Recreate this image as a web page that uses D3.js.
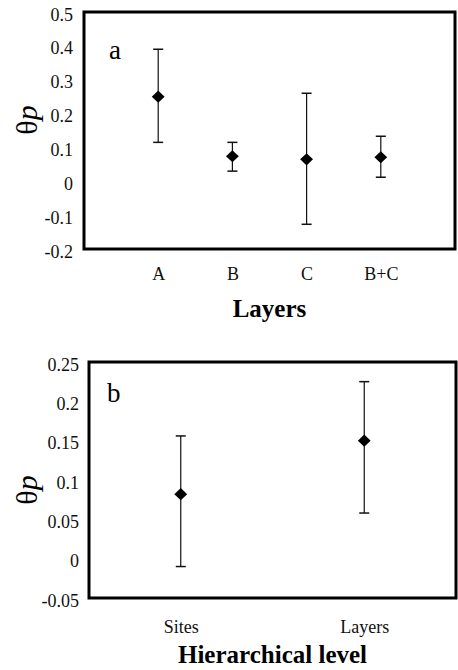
<!DOCTYPE html>
<html>
<head>
<meta charset="utf-8">
<script src="https://cdn.jsdelivr.net/npm/d3@7"></script>
<style>
  body { margin: 0; background: #fff; }
  svg { display: block; font-family: "Liberation Serif", "Times New Roman", serif; }
</style>
</head>
<body>
<svg id="chart" width="458" height="670"></svg>
<script>
// panel a: theta_p by layer
const layerCats = ["A", "B", "C", "B+C"];
const layerMean = [0.25, 0.074, 0.065, 0.071];
const layerLow  = [0.115, 0.03, -0.127, 0.012];
const layerHigh = [0.39, 0.115, 0.26, 0.133];
const layerTicks = [-0.2, -0.1, 0, 0.1, 0.2, 0.3, 0.4, 0.5];

// panel b: theta_p by hierarchical level
const levelCats = ["Sites", "Layers"];
const levelMean = [0.082, 0.15];
const levelLow  = [-0.01, 0.058];
const levelHigh = [0.156, 0.225];
const levelTicks = [-0.05, 0, 0.05, 0.1, 0.15, 0.2, 0.25];

const svg = d3.select("#chart");
const serif = "Liberation Serif, Times New Roman, serif";

function drawPanel(opts) {
    const { left, right, top, bottom, cats, mean, low, high, ticks, domain, padding } = opts;

    const x = d3.scalePoint().domain(cats).range([left, right]).padding(padding);
    const y = d3.scaleLinear().domain(domain).range([bottom, top]);

    const g = svg.append("g");

    // y tick labels
    g.append("g")
        .attr("transform", `translate(${left},0)`)
        .call(d3.axisLeft(y).tickValues(ticks).tickSize(0).tickPadding(opts.tickGap).tickFormat(d => String(+d.toFixed(2))))
        .call(a => a.select(".domain").remove())
        .selectAll("text")
        .attr("font-size", 18)
        .attr("font-family", serif)
        .attr("fill", "#111")
        .attr("dy", "0.45em");

    // category labels
    g.append("g")
        .attr("transform", `translate(0,${bottom})`)
        .call(d3.axisBottom(x).tickSize(0))
        .call(a => a.select(".domain").remove())
        .selectAll("text")
        .attr("y", opts.catOffset)
        .attr("dy", 0)
        .attr("font-size", 18)
        .attr("font-family", serif)
        .attr("fill", "#111");

    const data = cats.map((c, i) => ({ c, m: mean[i], lo: low[i], hi: high[i] }));

    const bars = g.selectAll(".err").data(data).enter().append("g").attr("class", "err");
    bars.append("line")
        .attr("x1", d => x(d.c)).attr("x2", d => x(d.c))
        .attr("y1", d => y(d.lo)).attr("y2", d => y(d.hi))
        .attr("stroke", "#111").attr("stroke-width", 1.2);
    bars.append("line")
        .attr("x1", d => x(d.c) - 5).attr("x2", d => x(d.c) + 5)
        .attr("y1", d => y(d.hi)).attr("y2", d => y(d.hi))
        .attr("stroke", "#111").attr("stroke-width", 1.5);
    bars.append("line")
        .attr("x1", d => x(d.c) - 5).attr("x2", d => x(d.c) + 5)
        .attr("y1", d => y(d.lo)).attr("y2", d => y(d.lo))
        .attr("stroke", "#111").attr("stroke-width", 1.5);
    bars.append("path")
        .attr("d", d3.symbol(d3.symbolDiamond2, 95))
        .attr("transform", d => `translate(${x(d.c)},${y(d.m)}) scale(1.05,1)`)
        .attr("fill", "#000");

    // frame
    g.append("rect")
        .attr("x", left).attr("y", top)
        .attr("width", right - left).attr("height", bottom - top)
        .attr("fill", "none").attr("stroke", "#000").attr("stroke-width", 3);

    // panel tag
    g.append("text")
        .attr("x", left + opts.tagDx).attr("y", top + opts.tagDy)
        .attr("font-size", 27)
        .text(opts.tag);

    // x title
    g.append("text")
        .attr("x", (left + right) / 2).attr("y", bottom + opts.titleOffset)
        .attr("text-anchor", "middle")
        .attr("font-size", 25).attr("font-weight", "bold")
        .text(opts.title);

    // y title
    const yl = g.append("text")
        .attr("transform", `translate(${opts.labelX},${opts.labelY}) rotate(-90)`)
        .attr("text-anchor", "middle")
        .attr("font-size", 30);
    yl.append("tspan").text("θ");
    yl.append("tspan").attr("font-style", "italic").text("p");
}

drawPanel({
    left: 84, right: 455, top: 12, bottom: 249,
    cats: layerCats, mean: layerMean, low: layerLow, high: layerHigh,
    ticks: layerTicks, domain: [-0.2, 0.5], padding: 1,
    tickGap: 11, catOffset: 31, titleOffset: 68,
    tag: "a", tagDx: 25, tagDy: 47,
    title: "Layers", labelX: 37, labelY: 120
});

drawPanel({
    left: 89, right: 456, top: 362, bottom: 598,
    cats: levelCats, mean: levelMean, low: levelLow, high: levelHigh,
    ticks: levelTicks, domain: [-0.05, 0.25], padding: 0.5,
    tickGap: 10, catOffset: 35, titleOffset: 65,
    tag: "b", tagDx: 18, tagDy: 40,
    title: "Hierarchical level", labelX: 37, labelY: 490
});
</script>
</body>
</html>
